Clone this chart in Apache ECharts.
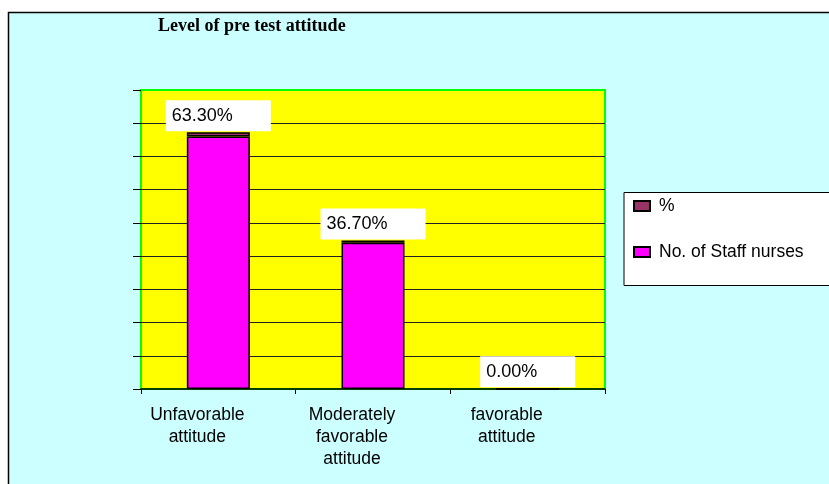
<!DOCTYPE html>
<html>
<head>
<meta charset="utf-8">
<script src="https://cdn.jsdelivr.net/npm/echarts@6/dist/echarts.min.js"></script>
<style>
html,body{margin:0;padding:0;background:#fff;}
#c{width:829px;height:484px;}
</style>
</head>
<body>
<div id="c"></div>
<script>
const titleText = 'Level of pre test attitude';
const categories = ['Unfavorable\nattitude', 'Moderately\nfavorable\nattitude', 'favorable\nattitude'];
const nurses = [38, 22, 0];
const percents = [0.633, 0.367, 0];
const seriesNames = ['No. of Staff nurses', '%'];
const yMin = 0, yMax = 45, yInterval = 5;

const chart = echarts.init(document.getElementById('c'), null, {renderer: 'canvas'});
const sans = 'Liberation Sans, Arial, sans-serif';
chart.setOption({
  animation: false,
  backgroundColor: '#fff',
  title: {
    text: titleText, left: 153, top: 12,
    textStyle: {fontFamily: 'Liberation Serif, Times New Roman, serif', fontWeight: 'bold', fontSize: 18, color: '#000'}
  },
  graphic: [
    {type: 'rect', z: -10, shape: {x: 8.5, y: 12.5, width: 840, height: 490},
     style: {fill: '#ccffff', stroke: '#000', lineWidth: 1.5}},
    {type: 'rect', z: -5, shape: {x: 624, y: 192.5, width: 220, height: 93},
     style: {fill: '#fff', stroke: '#000', lineWidth: 1}}
  ],
  legend: {
    orient: 'vertical', left: 633, top: 196,
    data: [seriesNames[1], seriesNames[0]],
    icon: 'rect',
    itemWidth: 16, itemHeight: 10, itemGap: 26,
    textStyle: {fontFamily: sans, fontSize: 17.5, color: '#000', lineHeight: 20, padding: [0, 0, 0, 4]},
    padding: 0
  },
  grid: {
    left: 141, top: 90, right: 224, bottom: 95,
    show: true, backgroundColor: '#ffff00', borderColor: '#00ff00', borderWidth: 2
  },
  xAxis: {
    type: 'category', data: categories,
    axisLine: {show: true, lineStyle: {color: '#000', width: 1.5}},
    axisTick: {show: true, length: 5, lineStyle: {color: '#000'}},
    axisLabel: {interval: 0, fontFamily: sans, fontSize: 17.5, color: '#000', lineHeight: 22, margin: 15, padding: [0, 42, 0, 0]}
  },
  yAxis: {
    type: 'value', min: yMin, max: yMax, interval: yInterval,
    axisLine: {show: false},
    axisTick: {show: true, length: 8, lineStyle: {color: '#000'}},
    axisLabel: {show: false},
    splitLine: {show: true, showMaxLine: false, showMinLine: false, lineStyle: {color: '#222', width: 1}}
  },
  series: [
    {
      name: seriesNames[0], type: 'bar', stack: 'a', data: nurses, barWidth: 63,
      itemStyle: {color: '#ff00ff', borderColor: '#000', borderWidth: 1.5}
    },
    {
      name: seriesNames[1], type: 'bar', stack: 'a', data: percents, barWidth: 63,
      itemStyle: {color: '#993366', borderColor: '#000', borderWidth: 1.5},
      label: {
        show: true, position: 'top', distance: 1,
        formatter: p => (p.value * 100).toFixed(2) + '%',
        backgroundColor: '#fff', padding: [7, 38, 7, 6],
        fontFamily: sans, fontSize: 18, lineHeight: 17, color: '#000'
      }
    }
  ]
});
</script>
</body>
</html>
